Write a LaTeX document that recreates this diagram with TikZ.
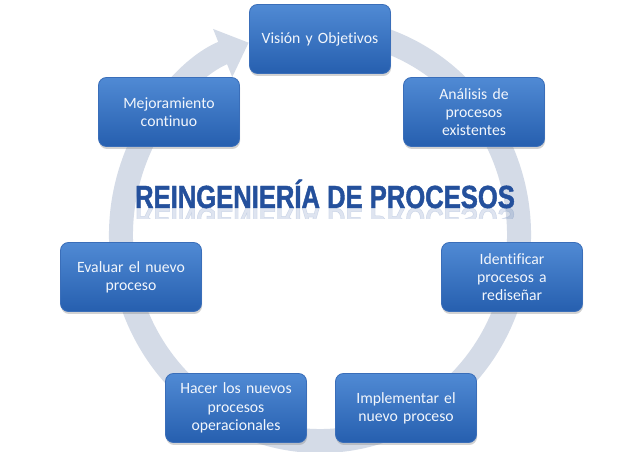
\documentclass[tikz,border=0pt]{standalone}
\usepackage{fontspec}
\setmainfont{Carlito}[Ligatures=NoCommon]
\newfontfamily\titlefont[FakeStretch=0.8,FakeBold=1.3]{Liberation Sans}
\usetikzlibrary{arrows.meta,shapes,positioning,shadows}

\definecolor{boxtop}{RGB}{80,138,212}
\definecolor{boxbot}{RGB}{38,95,175}
\definecolor{boxline}{RGB}{58,110,185}
\definecolor{ringgray}{RGB}{212,219,231}
\definecolor{titleblue}{RGB}{36,80,156}
\definecolor{boxtext}{RGB}{242,246,252}

\begin{document}
\begin{tikzpicture}[
  x=1pt, y=1pt,
  box/.style={rectangle, draw=boxline, line width=0.8pt, rounded corners=8pt, top color=boxtop, bottom color=boxbot, minimum width=141pt, minimum height=69pt, text width=130pt, align=center, text=boxtext, font=\fontsize{15.7}{18.3}\selectfont, drop shadow={shadow xshift=0.6pt, shadow yshift=-2.5pt, opacity=0.35}},
  ring/.style={line width=24pt, draw=ringgray, -{Triangle[length=28pt, width=50pt]}},
  titlestyle/.style={font=\titlefont\bfseries\fontsize{32}{32}\selectfont, text=titleblue, anchor=base}
]
\useasboundingbox (0,0) rectangle (640,452);
\fill[white] (0,0) rectangle (640,452);

\coordinate (c) at (320,217);
\draw[ring] (c) ++(75:199pt and 206pt) arc[start angle=75, end angle=-249, x radius=199pt, y radius=206pt];

\node[titlestyle] (titulo) at (325,244) {REINGENIERÍA DE PROCESOS};
\begin{scope}
\clip (100,233) rectangle (540,244);
\node[titlestyle, opacity=0.15, yscale=-1, transform shape] (reflejo) at (325,244) {REINGENIERÍA DE PROCESOS};
\end{scope}

\node[box] (vision) at (320,413) {Visión y Objetivos};
\node[box] (analisis) at (474,340) {Análisis de\\procesos\\existentes};
\node[box] (identificar) at (512,175) {Identificar\\procesos a\\rediseñar};
\node[box] (implementar) at (406,44) {Implementar el\\nuevo proceso};
\node[box] (hacer) at (236,44) {Hacer los nuevos\\procesos\\operacionales};
\node[box] (evaluar) at (131,175) {Evaluar el nuevo\\proceso};
\node[box] (mejora) at (169,340) {Mejoramiento\\continuo};

\end{tikzpicture}
\end{document}
